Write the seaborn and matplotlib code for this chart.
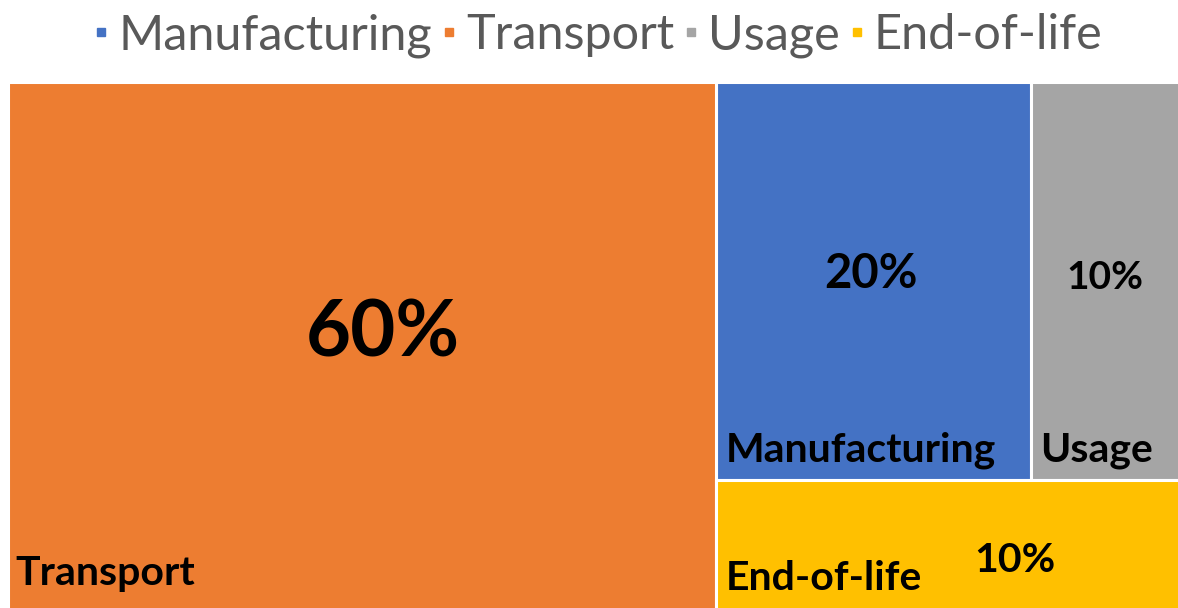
import matplotlib
matplotlib.use("Agg")
import matplotlib.pyplot as plt
from matplotlib.lines import Line2D
import seaborn as sns

# ---- data ----
categories = ["Manufacturing", "Transport", "Usage", "End-of-life"]
values = [20, 60, 10, 10]
value_labels = ["20%", "60%", "10%", "10%"]
colors = ["#4472C4", "#ED7D31", "#A5A5A5", "#FFC000"]

sns.set_theme(style="white")
plt.rcParams["font.family"] = ["Lato", "DejaVu Sans"]

DPI = 100
fig = plt.figure(figsize=(11.78, 6.08), dpi=DPI)
ax = fig.add_axes([8 / 1178, -4 / 608, 1180 / 1178, 530 / 608])
ax.set_xlim(0, 1)
ax.set_ylim(0, 1)
ax.axis("off")

# ---- treemap layout computed from values ----
val = dict(zip(categories, values))
total = sum(values)
w_tr = val["Transport"] / total
rest = total - val["Transport"]
top = val["Manufacturing"] + val["Usage"]
h_top = top / rest
w_man = (1 - w_tr) * val["Manufacturing"] / top
rects = {
    "Transport": (0, 0, w_tr, 1),
    "Manufacturing": (w_tr, 1 - h_top, w_man, h_top),
    "Usage": (w_tr + w_man, 1 - h_top, (1 - w_tr) - w_man, h_top),
    "End-of-life": (w_tr, 0, 1 - w_tr, 1 - h_top),
}

for cat, c in zip(categories, colors):
    x, y, w, h = rects[cat]
    ax.bar(x, h, width=w, bottom=y, align="edge", color=c,
           edgecolor="white", linewidth=2.2)

# label placement (relative inside each rectangle)
value_pos = {"Transport": (0.53, 0.483, 56),
             "Manufacturing": (0.493, 0.482, 34),
             "Usage": (0.472, 0.479, 28),
             "End-of-life": (0.633, 0.302, 29.5)}
name_pos = {"Transport": (7, 27), "Manufacturing": (10, 18),
            "Usage": (9, 18), "End-of-life": (10, 22)}

for cat, lab in zip(categories, value_labels):
    x, y, w, h = rects[cat]
    rx, ry, fs = value_pos[cat]
    ax.text(x + rx * w, y + ry * h, lab, ha="center", va="baseline",
            fontsize=fs, fontweight="bold", color="black")
    dx, dy = name_pos[cat]
    ax.annotate(cat, xy=(x, y), xytext=(dx * 72 / DPI, dy * 72 / DPI),
                textcoords="offset points", ha="left", va="baseline",
                fontsize=29.5, fontweight="bold", color="black")

handles = [Line2D([], [], marker="s", ls="", color=c, markersize=5.5)
           for c in colors]
fig.legend(handles, categories, loc="upper center", bbox_to_anchor=(0.508, 1.05),
           ncol=4, frameon=False, fontsize=35, labelcolor="#595959",
           handlelength=0.3, handletextpad=0.2, columnspacing=0.2)

fig.savefig("out.png", dpi=DPI)
